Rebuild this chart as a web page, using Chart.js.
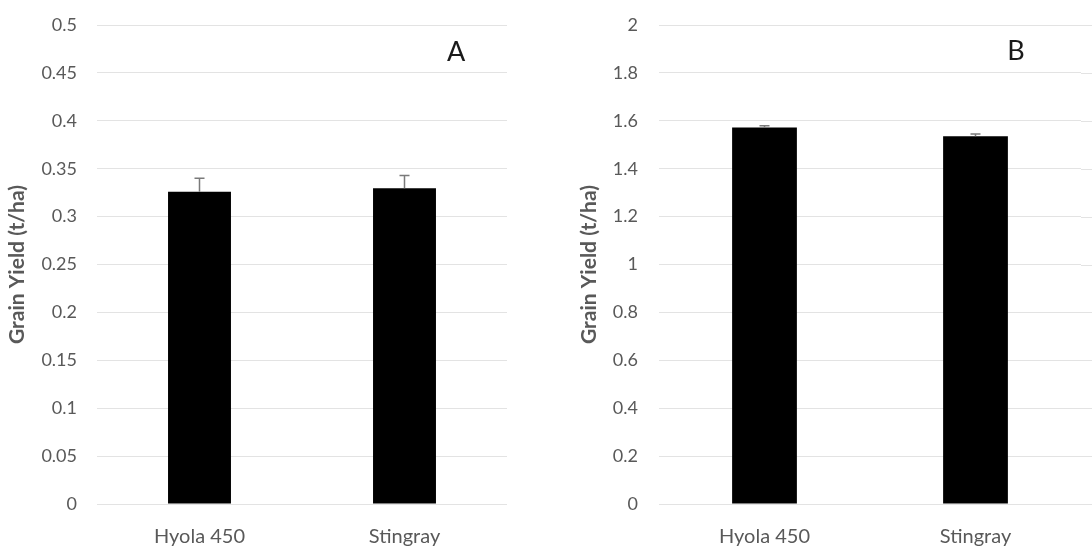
<!DOCTYPE html>
<html>
<head>
<meta charset="utf-8">
<script src="https://cdn.jsdelivr.net/npm/chart.js"></script>
<style>
  html, body { margin: 0; padding: 0; background: #fff; overflow: hidden; }
  #wrap { position: relative; width: 1092px; height: 550px; }
  canvas { position: absolute; top: 0; }
</style>
</head>
<body>
<div id="wrap">
  <canvas id="chartA" width="546" height="550" style="left:0"></canvas>
  <canvas id="chartB" width="546" height="550" style="left:546px"></canvas>
</div>
<script>
// Dados
const categories = ['Hyola 450', 'Stingray'];
const yieldA = [0.326, 0.3295];
const errorA = [0.014, 0.0135];
const yieldB = [1.572, 1.535];
const errorB = [0.007, 0.01];
const ticksA = [0, 0.05, 0.1, 0.15, 0.2, 0.25, 0.3, 0.35, 0.4, 0.45, 0.5];
const ticksB = [0, 0.2, 0.4, 0.6, 0.8, 1, 1.2, 1.4, 1.6, 1.8, 2];

const tickColor = '#595959';
const gridColor = '#e3e3e3';

// Barras de erro, letra do painel e prolongamento das linhas de grade
const errorBarsPlugin = {
    id: 'errorBars',
    beforeDatasetsDraw(chart, args, opts) {
        if (!opts.extendGrid) return;
        const ctx = chart.ctx;
        const yScale = chart.scales.y;
        ctx.save();
        ctx.strokeStyle = gridColor;
        ctx.lineWidth = 1;
        yScale.ticks.forEach(t => {
            const py = Math.round(yScale.getPixelForValue(t.value)) + 0.5;
            ctx.beginPath();
            ctx.moveTo(chart.chartArea.right, py);
            ctx.lineTo(chart.width, py);
            ctx.stroke();
        });
        ctx.restore();
    },
    afterDatasetsDraw(chart, args, opts) {
        const ctx = chart.ctx;
        const yScale = chart.scales.y;
        const area = chart.chartArea;
        const meta = chart.getDatasetMeta(0);
        const values = chart.data.datasets[0].data;

        ctx.save();
        ctx.strokeStyle = '#7a7a7a';
        ctx.lineWidth = 1.5;
        meta.data.forEach((bar, i) => {
            const yTop = yScale.getPixelForValue(values[i] + opts.errors[i]);
            const yVal = yScale.getPixelForValue(values[i]);
            ctx.beginPath();
            ctx.moveTo(bar.x, yVal);
            ctx.lineTo(bar.x, yTop);
            ctx.moveTo(bar.x - 5, yTop);
            ctx.lineTo(bar.x + 5, yTop);
            ctx.stroke();
        });

        ctx.fillStyle = '#1a1a1a';
        ctx.font = '27px Lato';
        ctx.textAlign = 'center';
        ctx.textBaseline = 'middle';
        const lx = area.left + (area.right - area.left) * opts.letterX;
        ctx.fillText(opts.letter, lx, yScale.getPixelForValue(opts.letterY));
        ctx.restore();
    }
};

function makeChart(id, values, errors, tickValues, cfg) {
    const ctx = document.getElementById(id).getContext('2d');
    return new Chart(ctx, {
        type: 'bar',
        data: {
            labels: categories,
            datasets: [{
                data: values,
                backgroundColor: '#000000',
                borderWidth: 0,
                categoryPercentage: 1,
                barPercentage: 0.307
            }]
        },
        options: {
            responsive: false,
            animation: false,
            devicePixelRatio: 1,
            layout: { padding: { top: 25, right: cfg.padRight, bottom: 0, left: 0 } },
            plugins: {
                legend: { display: false },
                tooltip: { enabled: false },
                errorBars: { errors: errors, letter: cfg.letter, letterX: cfg.letterX, letterY: cfg.letterY, extendGrid: cfg.extendGrid }
            },
            scales: {
                x: {
                    grid: { display: false, drawTicks: false },
                    border: { display: false },
                    ticks: { color: tickColor, font: { family: 'Lato', size: 20 }, padding: 21 },
                    afterFit: (axis) => { axis.height = 46; axis.paddingLeft = 0; axis.paddingRight = 0; }
                },
                y: {
                    min: 0,
                    max: tickValues[tickValues.length - 1],
                    grid: { color: gridColor, lineWidth: 1, drawTicks: false },
                    border: { display: false },
                    afterBuildTicks: (axis) => { axis.ticks = tickValues.map(v => ({ value: v })); },
                    ticks: {
                        color: tickColor,
                        font: { family: 'Lato', size: 18 },
                        padding: cfg.tickPad,
                        callback: (v) => String(Math.round(v * 100) / 100)
                    },
                    title: {
                        display: true,
                        text: 'Grain Yield (t/ha)',
                        color: tickColor,
                        font: { family: 'Lato', size: 21, weight: 'bold' },
                        padding: { top: cfg.titlePad, bottom: 0 }
                    },
                    afterFit: (axis) => { axis.width = cfg.axisWidth; axis.paddingTop = 0; axis.paddingBottom = 0; }
                }
            }
        },
        plugins: [errorBarsPlugin]
    });
}

makeChart('chartA', yieldA, errorA, ticksA,
    { axisWidth: 97, padRight: 39, tickPad: 20, titlePad: 5, letter: 'A', letterX: 0.876, letterY: 0.471, extendGrid: false });
makeChart('chartB', yieldB, errorB, ticksB,
    { axisWidth: 113, padRight: 11, tickPad: 21, titlePad: 31, letter: 'B', letterX: 0.846, letterY: 1.889, extendGrid: true });
</script>
</body>
</html>
